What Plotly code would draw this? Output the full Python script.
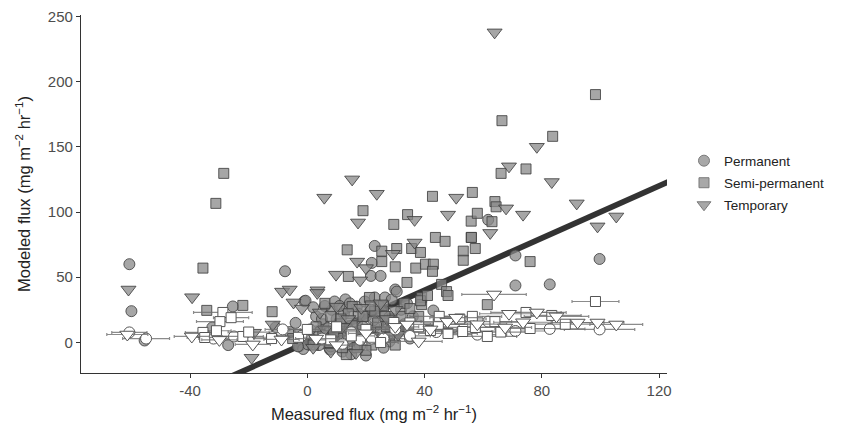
import plotly.graph_objects as go

# ---------------- data ----------------
# Permanent - modeled (grey filled circles)
perm_x = [-60.7, -60.0, -55.5, -32.4, -27.0, -25.4, -10.8, -7.6, -1.0, -2.7, -1.4, -0.6,
          22.0, 23.0, 21.7, 25.0, 30.0, 43.0, 61.7, 71.0, 99.7, 71.0, 82.7,
          0.2, -3.2, 2.5, 4.0, 5.5, 7.7, 8.4, 9.3, 10.0, 11.0, 12.0, 12.5, 13.5, 14.0, 15.0,
          16.9, 17.0, 18.0, 19.6, 20.0, 21.0, 21.9, 23.0, 23.0, 24.0, 25.3, 26.5, 27.0, 28.0,
          28.0, 28.8, 30.5, 31.0, 32.0, 33.0, 35.0, 36.0, 7.0, 3.0, 6.0, 9.0, 16.0, 19.0,
          1.0, 4.0, 9.0, 13.0, 15.0, 18.0, 20.0, 26.0, 29.0, 34.0, -4.0, -6.0, 2.0, 11.0,
          5.0, 10.5, 14.5, 17.5, 22.5, 24.5, 27.5, 12.0, 8.0, 19.0]
perm_y = [60.0, 24.0, 1.5, 11.5, -2.0, 27.6, 11.5, 54.6, 31.6, -3.0, -5.0, 32.0,
          61.0, 74.0, 51.0, 51.0, 40.6, 24.5, 94.0, 66.7, 64.0, 43.7, 44.5,
          -1.5, -3.0, 2.0, 8.0, 14.0, -5.4, 25.0, 31.4, 18.0, 6.0, -7.0, 22.0, 26.6, 10.0, 1.0,
          27.5, 15.0, -3.0, 31.4, 20.0, 8.0, 25.0, 34.5, 12.0, 2.0, 23.5, 34.5, 15.0, 19.6,
          0.7, 33.0, 39.0, 8.0, 25.0, 14.0, 3.0, 20.0, 11.0, 20.0, 28.0, -1.0, -4.0, 5.0,
          10.0, -2.0, 3.0, 33.0, -9.0, 9.0, -10.0, -4.0, 12.0, 30.0, 15.0, 8.0, 27.0, 28.0,
          18.0, 14.0, 30.0, 22.0, 17.0, 28.0, 6.0, 4.0, -3.0, 12.0]

# Semi-permanent - modeled (grey filled squares)
semi_x = [-28.5, -31.2, -35.6, -34.3, -22.0, -12.0, 13.6, 19.0, 14.0, 25.4, 25.4, 29.5,
          30.5, 30.0, 34.2, 35.6, 38.6, 37.0, 40.3, 43.0, 42.7, 42.7, 34.0, 39.0, 39.0,
          43.7, 47.0, 45.8, 47.5, 48.0, 53.2, 53.2, 55.9, 57.3, 55.9, 56.3, 58.0, 63.0,
          64.0, 64.4, 66.1, 66.4, 74.6, 83.7, 98.3, 76.0, 61.4, 38.6, 56.0,
          5.3, 10.4, 11.0, 13.3, 15.3, 15.3, 17.8, 19.0, 21.2, 22.0, 24.0, 25.0, 26.0, 28.0,
          29.0, 31.0, 33.0, 3.0, 8.0, 12.0, 20.0, -5.0, -3.0, 36.0, 38.0, 41.0,
          6.0, 9.0, 14.0, 17.0, 23.0, 27.0, 30.0, 32.0, 35.0, 2.0,
          11.5, 16.5, 21.5, 26.5, 7.5]
semi_y = [129.6, 106.6, 57.0, 24.6, 28.4, 23.6, 71.0, 101.0, 50.6, 70.0, 62.0, 90.5,
          72.0, 58.0, 98.0, 72.0, 69.0, 57.0, 60.0, 60.0, 54.5, 112.0, 46.0, 34.5, 29.0,
          80.5, 77.5, 44.5, 39.0, 36.0, 70.0, 63.0, 80.5, 72.0, 93.0, 115.0, 99.0, 92.6,
          108.0, 104.0, 129.6, 170.0, 133.0, 158.0, 190.0, 62.0, 29.0, 32.0, 80.5,
          5.4, 3.0, 14.3, -9.3, 12.8, 27.5, 4.6, 20.0, 34.5, -2.0, 15.0, 8.0, 28.0, 4.0,
          18.0, 10.0, 30.0, 12.0, 20.0, -4.0, -6.0, 3.0, 6.0, 12.0, 20.0, 36.0,
          30.0, 8.0, 22.0, -4.0, 24.0, 12.0, -2.0, 20.0, 26.0, -2.0,
          18.0, 6.0, 28.0, 20.0, 0.0]

# Temporary - modeled (grey filled down-triangles)
temp_x = [-61.0, -39.3, -18.2, -19.0, -11.8, -8.6, -6.0, -4.7, -1.8, 3.5, 4.3, 5.8,
          15.3, 23.7, 17.3, 36.6, 48.0, 50.8, 36.6, 29.2, 17.0, 9.8, 20.0, 18.0, 3.4,
          62.4, 63.9, 78.3, 68.8, 83.4, 91.9, 67.8, 73.6, 105.4, 99.0, 10.0, 18.4, 27.2,
          16.6, 6.0, 14.0, 22.0, 30.0, 2.0, 8.0, 12.0, 25.0, 19.0, 31.0]
temp_y = [40.6, 34.7, 7.5, -11.7, 13.8, 39.0, 40.6, 30.7, 26.0, 40.0, 23.0, 111.0,
          125.0, 114.0, 92.0, 94.0, 98.0, 111.0, 76.6, 68.0, 62.0, 52.0, 57.0, 47.6, 38.0,
          84.0, 237.7, 150.0, 135.0, 123.0, 106.6, 102.8, 98.0, 96.6, 89.0, 27.5, 26.6, 18.0,
          -8.0, 10.0, 18.0, 5.0, 25.0, -4.0, -7.0, 12.0, 30.0, 3.0, 6.0]

# Second model (open markers with horizontal error bars)
perm_open_x = [-60.7, -32.0, -25.0, -8.4, -2.0, 5.0, 12.0, 18.0, 22.0, 26.0, 35.0,
               61.7, 71.0, 82.7, 99.7, -12.0, 44.0, -55.0, 15.0, 30.0, 50.0, 58.0]
perm_open_y = [7.7, 3.0, 4.6, 10.0, 5.0, 3.0, -1.0, 2.0, 3.0, 3.0, 5.0,
               16.0, 8.8, 10.4, 10.0, 4.0, 8.0, 3.0, 8.0, 10.0, 12.0, 6.0]
perm_open_err = [6, 5, 5, 6, 8, 6, 7, 5, 6, 8, 7, 8, 12, 12, 12, 6, 9, 8, 7, 8, 9, 10]

semi_open_x = [-35.6, -35.0, -28.8, -29.8, -22.0, -12.2, -3.0, 8.0, 15.0, 29.5, 35.0,
               42.0, 44.7, 48.0, 53.0, 56.3, 57.3, 61.4, 64.0, 74.6, 76.0, 83.4, 98.3,
               -31.0, -26.0, 20.0, 25.0, 38.0, 52.0, -20.0, 0.0, 10.0, 45.0, 66.0, 88.0]
semi_open_y = [7.7, 3.8, 23.0, 16.0, 4.6, 3.0, 4.0, 2.0, 5.0, 15.3, 15.0,
               9.2, 13.8, 6.9, 8.4, 20.0, 11.5, 4.6, 16.0, 23.0, 10.7, 20.7, 31.4,
               9.0, 19.0, 10.0, 0.0, 12.0, 18.0, 8.0, 10.0, 12.0, 20.0, 8.0, 14.0]
semi_open_err = [6, 6, 10, 8, 7, 6, 6, 6, 8, 8, 8,
                 10, 10, 10, 10, 10, 12, 10, 10, 12, 12, 10, 8,
                 5, 6, 8, 6, 8, 9, 7, 6, 7, 10, 10, 12]

temp_open_x = [-61.4, -39.4, -18.6, -8.8, 3.0, 38.0, 47.8, 50.8, 63.7, 68.8, 78.3,
               73.6, 67.5, 92.2, 99.0, 105.4, 10.0, 30.0, 34.0, -30.0, 20.0, 42.0, 58.0, 85.0]
temp_open_y = [6.1, 4.6, -1.5, 2.3, 3.0, 0.8, 16.0, 19.0, 36.8, 22.0, 23.0,
               15.5, 11.5, 15.3, 15.3, 13.8, -2.0, 12.0, 13.8, 2.0, 7.0, 10.0, 14.0, 20.0]
temp_open_err = [7, 6, 6, 6, 7, 8, 9, 9, 11, 10, 10, 10, 9, 9, 9, 9, 6, 8, 8,
                 6, 6, 9, 10, 11]

one_to_one = [-40, 130]

x_ticks = [-40, 0, 40, 80, 120]
x_tick_text = ["-40", "0", "40", "80", "120"]
y_ticks = [0, 50, 100, 150, 200, 250]
y_tick_text = ["0", "50", "100", "150", "200", "250"]
group_names = ["Permanent", "Semi-permanent", "Temporary"]

# ---------------- figure ----------------
fig = go.Figure()

fig.add_trace(go.Scatter(x=one_to_one, y=one_to_one, mode="lines",
                         line=dict(color="#333333", width=5.8),
                         showlegend=False, hoverinfo="skip"))

fill = "rgba(135,135,135,0.74)"
edge = "rgba(65,65,65,0.85)"
symbols = ["circle", "square", "triangle-down"]
sizes = [11, 10, 13]

grey_sets = [(perm_x, perm_y), (semi_x, semi_y), (temp_x, temp_y)]
open_sets = [(perm_open_x, perm_open_y, perm_open_err),
             (semi_open_x, semi_open_y, semi_open_err),
             (temp_open_x, temp_open_y, temp_open_err)]

for (gx, gy), sym, sz, name in zip(grey_sets, symbols, sizes, group_names):
    fig.add_trace(go.Scatter(x=gx, y=gy, mode="markers", name=name,
                             marker=dict(symbol=sym, size=sz, color=fill,
                                         line=dict(color=edge, width=1)),
                             showlegend=False))

for (ox, oy, oe), sym, sz in zip(open_sets, symbols, sizes):
    fig.add_trace(go.Scatter(x=ox, y=oy, mode="markers",
                             error_x=dict(type="data", array=oe, color="rgba(110,110,110,0.8)",
                                          thickness=1.2, width=1.5),
                             marker=dict(symbol=sym, size=sz, color="white",
                                         line=dict(color="#555555", width=1)),
                             showlegend=False))

# legend entries
for sym, name, lsz in zip(symbols, group_names, [11, 10, 12]):
    fig.add_trace(go.Scatter(x=[None], y=[None], mode="markers", name=name,
                             legendgroup=name,
                             marker=dict(symbol=sym, size=lsz, color="#a8a8a8",
                                         line=dict(color="#7a7a7a", width=1))))

axis_common = dict(showgrid=False, zeroline=False, showline=True, automargin=False,
                   linecolor="#333333", linewidth=1.3, ticks="outside",
                   ticklen=4, tickwidth=1.2, tickcolor="#333333",
                   ticklabeloverflow="allow",
                   tickfont=dict(family="Liberation Sans, Arial", size=15, color="#4d4d4d"),
                   mirror=False)

# the page body adds an 8 px offset, so the figure is 8 px smaller each way
fig.update_layout(
    width=849, height=417,
    margin=dict(l=73, r=190, t=7, b=52),
    paper_bgcolor="white", plot_bgcolor="white",
    font=dict(family="Liberation Sans, Arial", color="#222222"),
    xaxis=dict(range=[-77.2, 122.7], tickvals=x_ticks, ticktext=x_tick_text,
               title=dict(text="Measured flux (mg m<sup>−2</sup> hr<sup>−1</sup>)",
                          font=dict(size=16.5, color="#222222"), standoff=10),
               **axis_common),
    yaxis=dict(range=[-23.4, 251], tickvals=y_ticks, ticktext=y_tick_text,
               title=dict(text="Modeled flux (mg m<sup>−2</sup> hr<sup>−1</sup>)",
                          font=dict(size=16.5, color="#222222"), standoff=13),
               **axis_common),
    legend=dict(x=1.029, xanchor="left", y=0.531, yanchor="middle",
                font=dict(family="Liberation Sans, Arial", size=13.5, color="#222222"),
                tracegroupgap=1.5, bgcolor="rgba(0,0,0,0)"),
)

fig.write_html("out.html")
